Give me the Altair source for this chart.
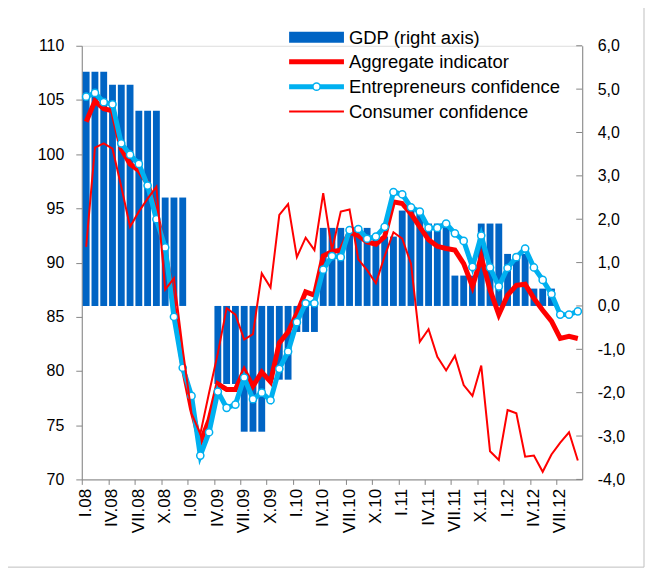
import altair as alt
import pandas as pd

# ---- categories ----
romans = ["I", "II", "III", "IV", "V", "VI", "VII", "VIII", "IX", "X", "XI", "XII"]
years = ["08", "09", "10", "11", "12"]
months = [f"{r}.{y}" for y in years for r in romans][:57]   # I.08 ... IX.12

# ---- series ----
gdp_quarterly = [5.4, 5.1, 4.5, 2.5, None, -1.8, -2.9, -1.7, -0.6,
                 1.8, 1.8, 1.6, 2.2, 1.9, 0.7, 1.9, 1.2, 0.4, None]

entrepreneurs = [105.3, 105.65, 104.8, 104.6, 101.0, 99.95, 99.1, 97.1, 94.0, 91.4,
                 85.0, 80.3, 77.7, 72.2, 74.35, 78.1, 76.6, 76.9, 79.4, 77.4,
                 78.0, 77.3, 80.2, 81.8, 84.5, 86.25, 86.25, 89.35, 90.6, 90.5,
                 93.0, 93.1, 92.2, 92.4, 93.3, 96.5, 96.3, 95.1, 94.7, 93.2,
                 93.2, 93.6, 92.7, 92.0, 89.6, 92.5, 89.55, 87.8, 89.5, 90.5,
                 91.3, 89.55, 88.4, 87.1, 85.2, 85.2, 85.5]

aggregate = [103.0, 104.9, 104.2, 104.0, 100.5, 99.1, 98.5, 97.3, 94.5, 91.0,
             86.0, 80.5, 76.5, 73.4, 75.5, 78.8, 78.3, 78.3, 80.05, 78.6,
             79.9, 79.0, 82.6, 83.6, 85.3, 87.3, 87.0, 90.6, 91.0, 91.15,
             92.8, 92.5, 91.9, 91.7, 92.4, 95.6, 95.45, 94.5, 93.3, 92.1,
             91.5, 91.3, 91.15, 89.9, 87.8, 90.5, 87.5, 85.2, 87.0, 87.9,
             88.0, 86.7, 85.6, 84.6, 83.0, 83.2, 83.0]

consumer = [91.45, 100.6, 101.0, 100.5, 97.0, 93.3, 94.7, 95.9, 97.0, 87.5,
            88.55, 82.0, 76.1, 74.2, 78.0, 81.65, 85.8, 85.2, 82.9, 83.4,
            89.0, 87.7, 94.4, 95.4, 90.5, 92.3, 91.15, 96.4, 91.15, 94.7,
            94.9, 90.3, 89.3, 88.1, 90.6, 92.8, 92.2, 89.9, 82.7, 83.85,
            81.3, 80.05, 81.4, 78.7, 77.7, 80.5, 72.6, 71.8, 76.4, 76.1,
            72.1, 72.2, 70.7, 72.3, 73.4, 74.35, 71.75]

left_ticks = [70, 75, 80, 85, 90, 95, 100, 105, 110]
right_ticks = [-4, -3, -2, -1, 0, 1, 2, 3, 4, 5, 6]
legend_labels = ["GDP (right axis)", "Aggregate indicator",
                 "Entrepreneurs confidence", "Consumer confidence"]

# ---- tables ----
df = pd.DataFrame({
    "month": months,
    "gdp": [gdp_quarterly[i // 3] for i in range(len(months))],
    "entrepreneurs": entrepreneurs,
    "aggregate": aggregate,
    "consumer": consumer,
})
gdp_df = df.dropna(subset=["gdp"])
rt_df = pd.DataFrame({"v": right_ticks})

BLUE = "#0064C4"
LBLUE = "#00B0F0"
RED = "#FF0000"
GRAY = "#868686"
FONT = "Liberation Sans"

W, H = 502, 435

x_axis = alt.Axis(values=months[0::3], labelAngle=270, title=None, labelFontSize=17,
                  labelFont=FONT, labelColor="#000000", domainColor=GRAY, tickColor=GRAY,
                  tickSize=5, labelPadding=4, bandPosition=0, grid=False)
x_enc = alt.X("month:N", sort=months,
              scale=alt.Scale(type="band", domain=months, paddingInner=0.22, paddingOuter=0.11),
              axis=x_axis)


def rscale():
    return alt.Scale(domain=[-4, 6], nice=False, zero=False)


def lscale():
    return alt.Scale(domain=[70, 110], nice=False, zero=False)


right_axis = alt.Axis(orient="right", values=right_ticks, title=None, ticks=False,
                      labelPadding=15, labelFontSize=16, labelFont=FONT,
                      labelColor="#000000", domainColor=GRAY, grid=False,
                      labelExpr="(datum.value < 0 ? '-' : '') + "
                                "replace(format(abs(datum.value), '.1f'), '.', ',')")
left_axis = alt.Axis(orient="left", values=left_ticks, title=None, tickSize=6,
                     labelPadding=12, labelFontSize=16, labelFont=FONT,
                     labelColor="#000000", domainColor=GRAY, tickColor=GRAY, grid=False)

bars = alt.Chart(gdp_df).mark_bar(color=BLUE).encode(
    x=x_enc,
    y=alt.Y("gdp:Q", scale=rscale(), axis=right_axis),
    y2=alt.datum(0),
)
rticks = alt.Chart(rt_df).mark_rule(color=GRAY, strokeWidth=1).encode(
    x=alt.value(W - 6), x2=alt.value(W),
    y=alt.Y("v:Q", scale=rscale(), axis=None),
)
agg = alt.Chart(df).mark_line(color=RED, strokeWidth=5).encode(
    x=x_enc, y=alt.Y("aggregate:Q", scale=lscale(), axis=left_axis))
ent = alt.Chart(df).mark_line(color=LBLUE, strokeWidth=5).encode(
    x=x_enc, y=alt.Y("entrepreneurs:Q", scale=lscale(), axis=None))
ent_pts = alt.Chart(df).mark_point(shape="circle", filled=True, fill="white", stroke=LBLUE,
                                   strokeWidth=1.5, size=52, opacity=1).encode(
    x=x_enc, y=alt.Y("entrepreneurs:Q", scale=lscale(), axis=None))
cons = alt.Chart(df).mark_line(color=RED, strokeWidth=2).encode(
    x=x_enc, y=alt.Y("consumer:Q", scale=lscale(), axis=None))

# ---- legend (drawn by hand, placed inside the plot's top area) ----
one = pd.DataFrame({"k": [0]})
lx0, lx1, ltx = 208, 263, 268
ly = [-8, 16, 41, 66]
leg_texts = [
    alt.Chart(one).mark_text(align="left", baseline="middle", font=FONT, fontSize=18.5,
                             color="#000000", text=lab).encode(
        x=alt.value(ltx), y=alt.value(yy))
    for lab, yy in zip(legend_labels, ly)
]
leg_bar = alt.Chart(one).mark_rect(color=BLUE).encode(
    x=alt.value(lx0), x2=alt.value(lx1), y=alt.value(ly[0] - 6), y2=alt.value(ly[0] + 5))
leg_agg = alt.Chart(one).mark_rule(color=RED, strokeWidth=5).encode(
    x=alt.value(lx0), x2=alt.value(lx1), y=alt.value(ly[1]))
leg_ent = alt.Chart(one).mark_rule(color=LBLUE, strokeWidth=5).encode(
    x=alt.value(lx0), x2=alt.value(lx1), y=alt.value(ly[2]))
leg_ent_pt = alt.Chart(one).mark_point(shape="circle", filled=True, fill="white", stroke=LBLUE,
                                       strokeWidth=1.5, size=52, opacity=1).encode(
    x=alt.value((lx0 + lx1) / 2), y=alt.value(ly[2]))
leg_cons = alt.Chart(one).mark_rule(color=RED, strokeWidth=2).encode(
    x=alt.value(lx0), x2=alt.value(lx1), y=alt.value(ly[3]))

# chart-area frame (right and bottom edges)
frame_r = alt.Chart(one).mark_rule(color="#BFBFBF", strokeWidth=1).encode(
    x=alt.value(564), y=alt.value(-45), y2=alt.value(523))
frame_b = alt.Chart(one).mark_rule(color="#BFBFBF", strokeWidth=1).encode(
    x=alt.value(-82), x2=alt.value(564), y=alt.value(523))

chart = alt.layer(
    bars, rticks, agg, ent, ent_pts, cons,
    leg_bar, leg_agg, leg_ent, leg_ent_pt, leg_cons, *leg_texts, frame_r, frame_b,
).resolve_scale(y="independent").properties(
    width=W, height=H,
    autosize=alt.AutoSizeParams(type="none"),
    padding={"left": 74, "top": 37, "right": 66, "bottom": 91},
).configure_view(stroke=None).configure(background="white")

chart.save("out.html", embed_options={"renderer": "svg", "actions": False})
